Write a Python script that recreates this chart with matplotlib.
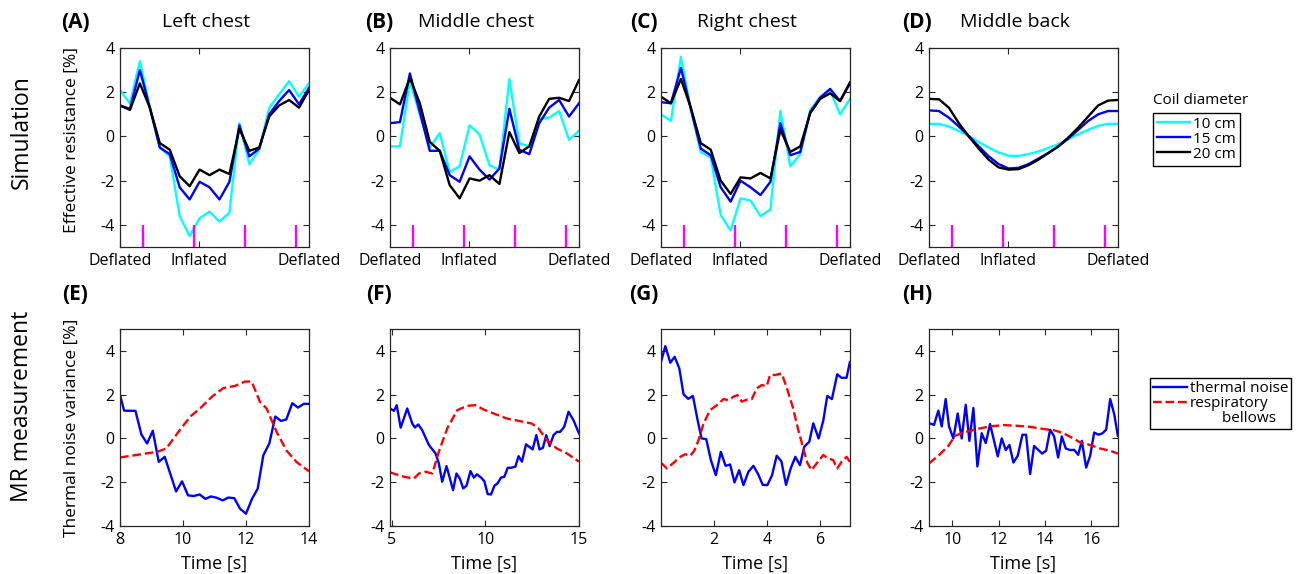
import numpy as np
import matplotlib.pyplot as plt
from matplotlib.lines import Line2D

plt.rcParams['font.family'] = ['Open Sans', 'DejaVu Sans']
plt.rcParams['axes.unicode_minus'] = False

# ---- simulation: effective resistance [%] over one breathing cycle (20 samples)
sim_x = np.arange(20)
breath_marks = [2.34, 7.46, 12.58, 17.70]
inflated_pos = 7.9

left_10 = [2.1, 1.5, 3.4, 1.3, -0.5, -0.9, -3.6, -4.5, -3.7, -3.4, -3.85, -3.45, 0.6, -1.25, -0.6, 1.3, 1.9, 2.5, 1.8, 2.4]
left_15 = [1.4, 1.25, 3.0, 1.3, -0.5, -0.8, -2.3, -2.85, -2.05, -2.3, -2.85, -2.05, 0.5, -0.9, -0.55, 1.0, 1.6, 2.1, 1.45, 2.2]
left_20 = [1.4, 1.2, 2.4, 1.3, -0.3, -0.6, -1.8, -2.25, -1.5, -1.75, -1.5, -1.7, 0.35, -0.65, -0.5, 0.9, 1.4, 1.65, 1.3, 2.1]

mid_10 = [-0.45, -0.45, 2.5, 1.0, -0.5, 0.15, -1.6, -1.35, 0.5, 0.1, -1.3, -1.5, 2.6, -0.3, -0.45, 0.8, 0.85, 1.15, -0.15, 0.25]
mid_15 = [0.6, 0.65, 2.85, 1.1, -0.65, -0.65, -1.75, -2.05, -0.9, -1.5, -1.95, -1.45, 1.25, -0.6, -0.8, 0.6, 1.3, 1.65, 0.9, 1.5]
mid_20 = [1.75, 1.45, 2.65, 1.5, -0.25, -0.65, -2.2, -2.8, -1.9, -2.0, -1.75, -2.15, 0.2, -0.75, -0.45, 0.9, 1.7, 1.75, 1.6, 2.55]

right_10 = [1.0, 0.7, 3.6, 1.2, -0.7, -0.95, -3.55, -4.25, -2.8, -2.9, -3.6, -3.3, 1.15, -1.35, -0.8, 1.2, 1.8, 2.1, 1.0, 1.7]
right_15 = [1.55, 1.5, 3.1, 1.25, -0.55, -0.85, -2.3, -2.95, -2.0, -2.3, -2.65, -2.05, 0.6, -0.85, -0.7, 1.1, 1.75, 2.15, 1.6, 2.4]
right_20 = [1.8, 1.5, 2.6, 1.3, -0.3, -0.6, -2.0, -2.6, -1.85, -1.9, -1.65, -1.9, 0.3, -0.7, -0.45, 1.05, 1.7, 1.95, 1.6, 2.45]

back_10 = [0.57, 0.57, 0.45, 0.25, 0.02, -0.25, -0.5, -0.72, -0.87, -0.88, -0.8, -0.68, -0.52, -0.35, -0.12, 0.1, 0.3, 0.48, 0.57, 0.57]
back_15 = [1.18, 1.15, 0.85, 0.45, 0.02, -0.45, -0.9, -1.25, -1.45, -1.42, -1.25, -1.0, -0.75, -0.45, -0.1, 0.3, 0.7, 1.0, 1.15, 1.15]
back_20 = [1.7, 1.68, 1.3, 0.6, 0.0, -0.55, -1.05, -1.4, -1.5, -1.48, -1.3, -1.05, -0.75, -0.45, -0.05, 0.4, 0.9, 1.4, 1.62, 1.65]

# ---- MR measurement: thermal noise variance [%] and respiratory bellows
e_t = [8.00, 8.13, 8.49, 8.68, 8.86, 9.04, 9.23, 9.42, 9.78, 9.97, 10.16, 10.34, 10.53, 10.71, 10.89, 11.07,
       11.26, 11.44, 11.63, 11.81, 12.00, 12.19, 12.37, 12.55, 12.74, 12.93, 13.11, 13.28, 13.47, 13.65, 13.83, 14.00]
e_noise = [1.99, 1.27, 1.26, 0.18, -0.23, 0.35, -1.07, -0.84, -2.42, -1.96, -2.6, -2.63, -2.56, -2.76, -2.65, -2.71,
           -2.83, -2.7, -2.73, -3.21, -3.44, -2.76, -2.3, -0.77, -0.23, 1.0, 0.8, 0.87, 1.61, 1.41, 1.58, 1.58]
e_bt = [8.0, 9.18, 9.47, 9.86, 10.23, 10.55, 10.92, 11.28, 11.65, 11.97, 12.18, 12.44, 12.65, 12.97, 13.28, 13.6, 14.0]
e_bellows = [-0.87, -0.61, -0.46, 0.31, 1.0, 1.38, 1.91, 2.3, 2.4, 2.6, 2.6, 1.68, 1.38, 0.31, -0.54, -1.07, -1.5]

f_t = [4.90, 5.11, 5.26, 5.47, 5.82, 6.09, 6.23, 6.41, 6.62, 6.98, 7.33, 7.51, 7.69, 7.92, 8.27, 8.45, 8.63,
       8.81, 8.99, 9.20, 9.38, 9.55, 9.77, 9.94, 10.12, 10.30, 10.48, 10.65, 10.83, 11.01, 11.19, 11.37, 11.60,
       11.77, 11.95, 12.17, 12.34, 12.52, 12.72, 12.89, 13.07, 13.25, 13.43, 13.64, 13.82, 13.99, 14.21, 14.44,
       14.70, 15.00]
f_noise = [1.37, 1.26, 1.52, 0.49, 1.37, 0.68, 0.5, 0.64, 0.38, -0.3, -0.68, -1.14, -1.98, -1.26, -2.36, -1.6, -1.83,
           -2.28, -2.16, -1.49, -1.79, -1.64, -1.79, -1.95, -2.54, -2.56, -2.16, -2.05, -1.79, -1.75, -1.34, -1.34, -1.29,
           -0.81, -1.06, -0.27, -0.38, -0.5, 0.15, -0.5, -0.43, 0.15, -0.35, 0.15, 0.3, 0.3, 0.53, 1.22, 0.84, 0.23]
f_bt = [4.90, 5.65, 6.18, 6.45, 6.80, 7.16, 7.51, 7.96, 8.49, 9.02, 9.46, 9.91, 10.44, 11.15, 11.86, 12.48, 12.84,
        13.28, 13.82, 14.35, 15.00]
f_bellows = [-1.55, -1.75, -1.83, -1.6, -1.52, -1.6, -0.61, 0.46, 1.29, 1.49, 1.52, 1.32, 1.14, 0.91, 0.79, 0.68, 0.46,
             -0.08, -0.46, -0.68, -1.06]

g_t = [0.0, 0.164, 0.352, 0.516, 0.692, 0.855, 1.031, 1.208, 1.384, 1.535, 1.711, 1.887, 2.075, 2.264, 2.44, 2.616,
       2.78, 2.956, 3.119, 3.308, 3.497, 3.673, 3.849, 4.025, 4.201, 4.377, 4.553, 4.73, 4.906, 5.082, 5.258, 5.421,
       5.61, 5.761, 5.962, 6.138, 6.289, 6.465, 6.667, 6.83, 7.019, 7.145]
g_noise = [3.5, 4.22, 3.46, 3.73, 3.2, 2.01, 1.81, 1.94, 0.84, 0.0, -0.03, -0.99, -1.68, -0.61, -1.25, -1.19, -2.01,
           -1.45, -2.13, -1.52, -1.25, -1.63, -2.12, -2.13, -1.68, -0.79, -1.04, -2.12, -1.37, -0.84, -1.22, -0.38,
           -0.15, 0.69, 0.0, 0.81, 1.94, 1.8, 2.93, 2.77, 2.77, 3.49]
g_bt = [0.0, 0.226, 0.478, 0.73, 0.918, 1.107, 1.258, 1.421, 1.61, 1.862, 2.113, 2.365, 2.553, 2.742, 2.893, 3.057,
        3.308, 3.434, 3.623, 3.811, 4.0, 4.126, 4.314, 4.566, 4.755, 4.981, 5.195, 5.384, 5.535, 5.698, 5.887, 6.138,
        6.327, 6.516, 6.667, 6.83, 7.019, 7.145]
g_bellows = [-1.11, -1.37, -1.11, -0.84, -0.72, -0.79, -0.56, -0.08, 0.69, 1.3, 1.52, 1.8, 1.75, 1.91, 1.98, 1.68,
             1.8, 1.8, 2.29, 2.44, 2.39, 2.9, 2.9, 2.97, 2.33, 1.45, 0.38, -0.46, -1.11, -1.45, -1.14, -0.76, -0.91,
             -0.99, -1.37, -1.07, -0.84, -1.07]

h_t = [9.0, 9.216, 9.403, 9.547, 9.719, 9.863, 10.05, 10.237, 10.41, 10.583, 10.741, 10.914, 11.086, 11.273, 11.446,
       11.633, 11.806, 11.964, 12.137, 12.309, 12.468, 12.64, 12.827, 13.029, 13.187, 13.36, 13.532, 13.705, 13.878,
       14.05, 14.223, 14.396, 14.568, 14.727, 14.899, 15.086, 15.259, 15.432, 15.59, 15.777, 15.95, 16.122, 16.309,
       16.468, 16.64, 16.813, 16.986, 17.144]
h_noise = [0.7, 0.62, 1.27, 0.55, 1.8, 0.55, 0.0, 1.14, 0.0, 1.54, -0.11, 1.39, -1.28, 0.24, -0.21, 0.66, -0.11,
           -0.82, 0.0, -0.53, -0.3, -1.1, -0.79, 0.17, 0.17, -1.63, -0.34, -0.52, -0.69, -0.56, 0.4, 0.09, -0.87,
           0.09, -0.46, -0.53, -0.52, -0.75, -0.11, -1.33, -0.79, 0.27, 0.17, 0.23, 0.4, 1.8, 1.11, 0.12]
h_bt = [9.0, 9.403, 9.835, 10.122, 10.482, 11.058, 11.633, 12.209, 12.784, 13.36, 13.935, 14.367, 14.727, 15.086,
        15.518, 15.95, 16.381, 16.813, 17.144]
h_bellows = [-1.14, -0.79, -0.34, 0.12, 0.27, 0.43, 0.55, 0.61, 0.58, 0.53, 0.43, 0.38, 0.27, 0.08, -0.18, -0.3,
             -0.46, -0.56, -0.69]

W, H = 1301, 574
fig = plt.figure(figsize=(W / 100, H / 100), dpi=100)


def add_ax(left, top, w, h):
    return fig.add_axes([left / W, 1 - (top + h) / H, w / W, h / H])


def style(ax):
    ax.tick_params(direction='in', top=True, right=True, length=4, width=0.8,
                   labelsize=11.5, color='0.15', pad=4)
    for s in ax.spines.values():
        s.set_linewidth(0.9)
        s.set_color('0.15')


lefts = [120, 390, 661, 929]
titles = ['Left chest', 'Middle chest', 'Right chest', 'Middle back']
top_letters = ['(A)', '(B)', '(C)', '(D)']
label_x = [75, 379, 644, 917]
sim_data = [(left_10, left_15, left_20), (mid_10, mid_15, mid_20),
            (right_10, right_15, right_20), (back_10, back_15, back_20)]

cyan, blue = '#00FFFF', '#0000FF'

for i in range(4):
    ax = add_ax(lefts[i], 48, 189, 199)
    d10, d15, d20 = sim_data[i]
    l10, = ax.plot(sim_x, d10, color=cyan, lw=1.7)
    l15, = ax.plot(sim_x, d15, color=blue, lw=1.7)
    l20, = ax.plot(sim_x, d20, color='black', lw=1.7)
    ax.vlines(breath_marks, -5, -4, color='magenta', lw=1.7)
    ax.set_xlim(0, 19)
    ax.set_ylim(-5, 4)
    ax.set_yticks([-4, -2, 0, 2, 4])
    ax.set_xticks([0, inflated_pos, 19])
    ax.set_xticklabels(['Deflated', 'Inflated', 'Deflated'])
    style(ax)
    fig.text(label_x[i] / W, 1 - 22 / H, top_letters[i], fontsize=15, fontweight='bold',
             ha='center', va='center')
    fig.text((lefts[i] + 86) / W, 1 - 22 / H, titles[i], fontsize=14, ha='center', va='center')

fig.text(1153 / W, 1 - 101 / H, 'Coil diameter', fontsize=11, ha='left', va='center')
fig.legend([l10, l15, l20], ['10 cm', '15 cm', '20 cm'], loc='upper left',
           bbox_to_anchor=(1153 / W, 1 - 113 / H), fontsize=11, frameon=True, fancybox=False,
           edgecolor='black', framealpha=1, handlelength=2.2, handletextpad=0.2,
           borderpad=0.25, labelspacing=0.0, borderaxespad=0)

mr_data = [(e_t, e_noise, e_bt, e_bellows, (8, 14), [8, 10, 12, 14]),
           (f_t, f_noise, f_bt, f_bellows, (4.9, 15), [5, 10, 15]),
           (g_t, g_noise, g_bt, g_bellows, (0, 7.15), [2, 4, 6]),
           (h_t, h_noise, h_bt, h_bellows, (9.0, 17.15), [10, 12, 14, 16])]
bottom_letters = ['(E)', '(F)', '(G)', '(H)']

for i in range(4):
    t, noise, bt, bel, xl, xt = mr_data[i]
    ax = add_ax(lefts[i], 329, 189, 197)
    ln, = ax.plot(t, noise, color=blue, lw=1.7)
    lb, = ax.plot(bt, bel, color='red', lw=1.7, ls='--')
    ax.set_xlim(*xl)
    ax.set_ylim(-4, 5)
    ax.set_xticks(xt)
    ax.set_yticks([-4, -2, 0, 2, 4])
    style(ax)
    ax.set_xlabel('Time [s]', fontsize=13, labelpad=5)
    fig.text(label_x[i] / W, 1 - 295 / H, bottom_letters[i], fontsize=15, fontweight='bold',
             ha='center', va='center')

blank = Line2D([], [], color='none')
fig.legend([ln, lb, blank], ['thermal noise', 'respiratory', '        bellows'], loc='upper left',
           bbox_to_anchor=(1150 / W, 1 - 378 / H), fontsize=11, frameon=True, fancybox=False,
           edgecolor='black', framealpha=1, handlelength=2.2, handletextpad=0.2,
           borderpad=0.2, labelspacing=0.0, borderaxespad=0)

fig.text(72 / W, 1 - 140 / H, 'Effective resistance [%]', rotation=90, fontsize=12.5,
         ha='center', va='center')
fig.text(72 / W, 1 - 428 / H, 'Thermal noise variance [%]', rotation=90, fontsize=12.5,
         ha='center', va='center')
fig.text(22 / W, 1 - 132 / H, 'Simulation', rotation=90, fontsize=16.5, ha='center', va='center')
fig.text(22 / W, 1 - 406 / H, 'MR measurement', rotation=90, fontsize=16.5, ha='center', va='center')

fig.savefig('out.png', dpi=100)
